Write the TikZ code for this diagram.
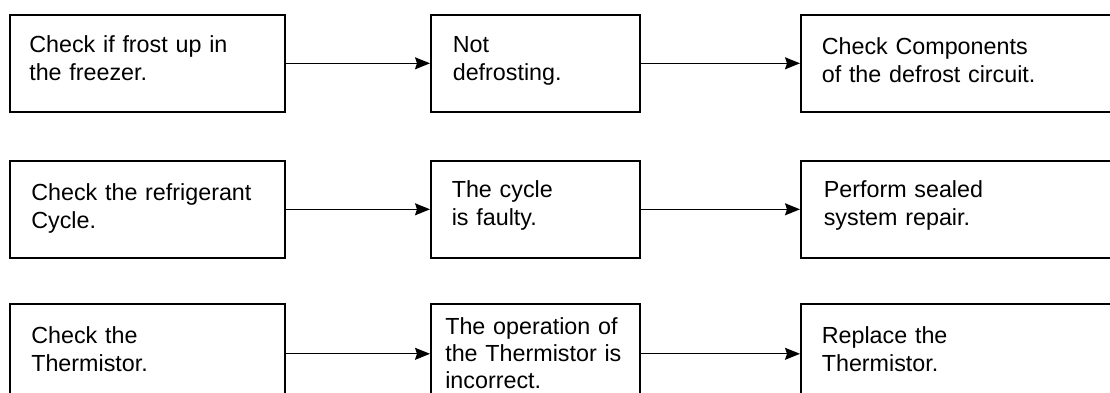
\documentclass[tikz,border=0pt]{standalone}
\usepackage{fontspec}
\setmainfont{Liberation Sans}
\usetikzlibrary{arrows.meta}
\begin{document}
\begin{tikzpicture}[x=1pt,y=1pt,
  box/.style={draw=black, line width=1.6pt, rectangle, anchor=north west,
    inner ysep=0pt, align=left, font=\fontsize{23.3}{28}\selectfont},
  arr/.style={line width=1.2pt, -{Stealth[length=15pt,width=12pt,inset=2pt]}}]
\useasboundingbox (0,0) rectangle (1110,-392);
\clip (0,0) rectangle (1110,-392);
% row 1
\node[box, inner xsep=19.5pt, text width=236pt, text height=37.7pt, text depth=59.3pt] (b11) at (9,-14) {Check if frost up in\\the freezer.};
\node[box, inner xsep=22pt, text width=165pt, text height=37.7pt, text depth=59.3pt] (b12) at (430,-14) {Not\\defrosting.};
\node[box, inner xsep=21pt, text width=283pt, text height=39.3pt, text depth=57.7pt] (b13) at (800,-14) {Check Components\\of the defrost circuit.};
% row 2
\node[box, inner xsep=21.5pt, text width=232pt, text height=40pt, text depth=57pt] (b21) at (9,-160) {Check the refrigerant\\Cycle.};
\node[box, inner xsep=21pt, text width=167pt, text height=36.7pt, text depth=60.3pt] (b22) at (430,-160) {The cycle\\is faulty.};
\node[box, inner xsep=23pt, text width=279pt, text height=36.7pt, text depth=60.3pt] (b23) at (800,-160) {Perform sealed\\system repair.};
% row 3
\node[box, inner xsep=21.5pt, text width=232pt, text height=39.7pt, text depth=60.3pt] (b31) at (9,-303) {Check the\\Thermistor.};
\node[box, inner xsep=14.5pt, text width=180pt, text height=30.3pt, text depth=69.7pt, font=\fontsize{23.3}{27.3}\selectfont] (b32) at (430,-303) {The operation of\\the Thermistor is\\incorrect.};
\node[box, inner xsep=21pt, text width=283pt, text height=39.7pt, text depth=60.3pt] (b33) at (800,-303) {Replace the\\Thermistor.};
% arrows
\draw[arr] (b11.east) -- (b12.west);
\draw[arr] (b12.east) -- (b13.west);
\draw[arr] (b21.east) -- (b22.west);
\draw[arr] (b22.east) -- (b23.west);
\draw[arr] (b31.east) -- (b32.west);
\draw[arr] (b32.east) -- (b33.west);
\end{tikzpicture}
\end{document}
